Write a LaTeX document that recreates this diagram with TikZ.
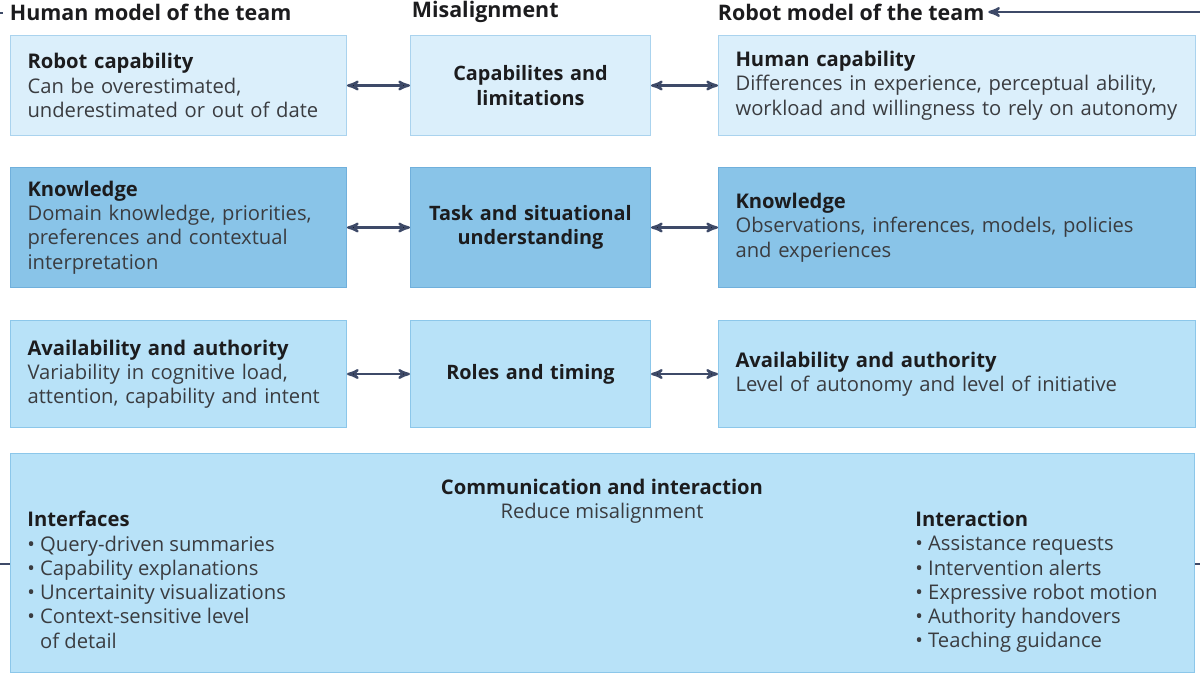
\documentclass[tikz,border=0pt]{standalone}
\usepackage{fontspec}
\setmainfont{Open Sans}
\usetikzlibrary{arrows,positioning}

\definecolor{paleblue}{RGB}{219,239,251}
\definecolor{paleedge}{RGB}{170,211,238}
\definecolor{midblue}{RGB}{137,196,232}
\definecolor{midedge}{RGB}{112,176,220}
\definecolor{skyblue}{RGB}{184,226,248}
\definecolor{skyedge}{RGB}{140,199,234}
\definecolor{navy}{RGB}{62,74,104}
\definecolor{bodygrey}{RGB}{58,60,64}
\definecolor{headblack}{RGB}{28,28,30}

\begin{document}
\begin{tikzpicture}[x=0.02cm,y=-0.02cm,>=stealth']
\tikzstyle{every node}+=[font=\fontsize{11.5}{13.8}\selectfont, text=bodygrey]
\tikzstyle{box}=[draw, line width=0.6pt, anchor=north west, inner xsep=0.34cm, inner ysep=0pt, align=left]
\tikzstyle{misbox}=[box, text width=4.12cm, align=center, font=\fontsize{11.3}{13.8}\selectfont\bfseries, text=headblack]
\tikzstyle{head}=[anchor=west, inner sep=2pt, font=\fontsize{12.2}{15}\selectfont\bfseries, text=headblack]
\useasboundingbox (0,0) rectangle (1200,675);

% row 1
\node (robotcap) [box, fill=paleblue, draw=paleedge, text width=6.04cm, minimum height=2cm] at (10,35)
  {\textbf{\color{headblack}Robot capability}\\Can be overestimated,\\underestimated or out of date};
\node (capmis) [misbox, fill=paleblue, draw=paleedge, minimum height=2cm] at (410,35)
  {Capabilites and\\limitations};
\node (humancap) [box, fill=paleblue, draw=paleedge, text width=8.86cm, minimum height=2cm] at (718,35)
  {\textbf{\color{headblack}Human capability}\\Differences in experience, perceptual ability,\\workload and willingness to rely on autonomy};

% row 2
\node (humanknow) [box, fill=midblue, draw=midedge, text width=6.04cm, minimum height=2.4cm] at (10,167)
  {\textbf{\color{headblack}Knowledge}\\Domain knowledge, priorities,\\preferences and contextual\\interpretation};
\node (taskmis) [misbox, fill=midblue, draw=midedge, minimum height=2.4cm] at (410,167)
  {Task and situational\\understanding};
\node (robotknow) [box, fill=midblue, draw=midedge, text width=8.86cm, minimum height=2.4cm] at (718,167)
  {\textbf{\color{headblack}Knowledge}\\Observations, inferences, models, policies\\and experiences};

% row 3
\node (humanauth) [box, fill=skyblue, draw=skyedge, text width=6.04cm, minimum height=2.14cm] at (10,320)
  {\textbf{\color{headblack}Availability and authority}\\Variability in cognitive load,\\attention, capability and intent};
\node (rolemis) [misbox, fill=skyblue, draw=skyedge, minimum height=2.14cm] at (410,320)
  {Roles and timing};
\node (robotauth) [box, fill=skyblue, draw=skyedge, text width=8.86cm, minimum height=2.14cm] at (718,320)
  {\textbf{\color{headblack}Availability and authority}\\Level of autonomy and level of initiative};

% headers
\node (humanhead) [head] at (6,12) {Human model of the team};
\node (mishead) [head] at (408,12) {Misalignment};
\node (robothead) [head] at (714,12) {Robot model of the team};

% communication box
\node (comm) [box, fill=skyblue, draw=skyedge, minimum width=23.68cm, minimum height=4.38cm] at (10,453) {};
\node (commtitle) [anchor=north, align=center] at (602,473)
  {\textbf{\color{headblack}Communication and interaction}\\Reduce misalignment};
\node (interfaces) [anchor=north west, align=left, inner sep=0pt] at (27,511)
  {\textbf{\color{headblack}Interfaces}\\
   • Query-driven summaries\\
   • Capability explanations\\
   • Uncertainity visualizations\\
   • Context-sensitive level\\
   \phantom{• }of detail};
\node (interaction) [anchor=north west, align=left, inner sep=0pt] at (915,511)
  {\textbf{\color{headblack}Interaction}\\
   • Assistance requests\\
   • Intervention alerts\\
   • Expressive robot motion\\
   • Authority handovers\\
   • Teaching guidance};

% loop ends
\coordinate (loopin) at (1200,12);
\coordinate (looptop) at (0,13);
\coordinate (looptopend) at (3,13);
\coordinate (loopleft) at (0,564);
\coordinate (loopright) at (1200,564);

\path[<->, draw=navy, line width=1.3pt]
  (robotcap) edge (capmis)
  (capmis) edge (humancap)
  (humanknow) edge (taskmis)
  (taskmis) edge (robotknow)
  (humanauth) edge (rolemis)
  (rolemis) edge (robotauth)
;
\draw[->, navy, line width=1.3pt] (loopin) -- (robothead);
\draw[navy, line width=1.3pt] (looptop) -- (looptopend);
\draw[navy, line width=1.3pt] (loopleft) -- (comm.west |- loopleft);
\draw[navy, line width=1.3pt] (loopright) -- (comm.east |- loopright);
\end{tikzpicture}
\end{document}
